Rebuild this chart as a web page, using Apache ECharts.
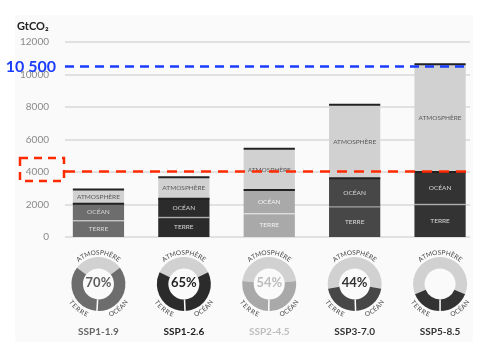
<!DOCTYPE html>
<html><head><meta charset="utf-8">
<script src="https://cdn.jsdelivr.net/npm/echarts@6/dist/echarts.min.js"></script>
<style>html,body{margin:0;padding:0;background:#fff}#c{width:501px;height:357px}</style>
</head><body><div id="c"></div>
<script>
// ---- data ----
const scenarios = ['SSP1-1.9', 'SSP1-2.6', 'SSP2-4.5', 'SSP3-7.0', 'SSP5-8.5'];
const terre = [1000, 1200, 1430, 1850, 2000];
const ocean = [1050, 1150, 1460, 1760, 2000];
const atmosphere = [850, 1300, 2510, 4500, 6600];
const uptakeLabels = ['70%', '65%', '54%', '44%', ''];
const yMin = 0, yMax = 12000, yStep = 2000;
const redLineValue = 4050;
const blueLineValue = 10500;
const blueLineLabel = '10 500';
const boxedTick = 4000;
const unitLabel = 'GtCO₂';
const segNames = ['TERRE', 'OCÉAN', 'ATMOSPHÈRE'];

// ---- styles ----
const mainColors = ['#6d6d6d', '#2b2b2b', '#a9a9a9', '#474747', '#333333'];
const atmColor = '#d1d1d1';
const nameColors = ['#666666', '#222222', '#bdbdbd', '#333333', '#333333'];
const pctColors = ['#5e5e5e', '#222222', '#bdbdbd', '#333333', '#333333'];
const FONT = 'Lato, "DejaVu Sans", sans-serif';

const chart = echarts.init(document.getElementById('c'), null, { renderer: 'canvas' });

function renderBars(params, api) {
  const i = api.value(0);
  const t = api.value(1), o = api.value(2), a = api.value(3);
  const w = api.size([1, 0])[0] * 0.6;
  const base = api.coord([i, 0]);
  const cx = base[0], y0 = base[1];
  const y1 = api.coord([i, t])[1];
  const y2 = api.coord([i, t + o])[1];
  const y3 = api.coord([i, t + o + a])[1];
  const x0 = cx - w / 2;
  const c = mainColors[i];
  const inner = i === 2 ? '#f2f2f2' : '#d8d8d8';
  const lf = '6.5px ' + FONT;
  return {
    type: 'group',
    children: [
      { type: 'rect', shape: { x: x0, y: y1, width: w, height: y0 - y1 }, style: { fill: c } },
      { type: 'rect', shape: { x: x0, y: y2, width: w, height: y1 - y2 }, style: { fill: c } },
      { type: 'rect', shape: { x: x0, y: y3, width: w, height: y2 - y3 }, style: { fill: atmColor } },
      { type: 'line', shape: { x1: x0, y1: y1, x2: x0 + w, y2: y1 }, style: { stroke: 'rgba(255,255,255,0.5)', lineWidth: 1.3 } },
      { type: 'line', shape: { x1: x0, y1: y2, x2: x0 + w, y2: y2 }, style: { stroke: '#222', lineWidth: 2 } },
      { type: 'line', shape: { x1: x0, y1: y3 - 0.5, x2: x0 + w, y2: y3 - 0.5 }, style: { stroke: '#222', lineWidth: 2 } },
      { type: 'text', x: cx, y: (y0 + y1) / 2, style: { text: segNames[0], font: lf, fill: inner, align: 'center', verticalAlign: 'middle' } },
      { type: 'text', x: cx, y: (y1 + y2) / 2, style: { text: segNames[1], font: lf, fill: inner, align: 'center', verticalAlign: 'middle' } },
      { type: 'text', x: cx, y: (y2 + y3) / 2, style: { text: segNames[2], font: lf, fill: '#5a5a5a', align: 'center', verticalAlign: 'middle' } }
    ]
  };
}

const rich = {};
nameColors.forEach((c, i) => { rich['s' + i] = { color: c, fontSize: 10, fontWeight: 'bold', fontFamily: FONT }; });

const baseOption = {
  animation: false,
  backgroundColor: '#ffffff',
  grid: [
    { left: 55.75, right: 18.25, top: 42, bottom: 120 },
    { left: 65, right: 31, top: 42, bottom: 120 }
  ],
  xAxis: [
    { gridIndex: 0, type: 'category', data: scenarios, axisLine: { show: false }, axisTick: { show: false },
      axisLabel: { interval: 0, margin: 90, formatter: (v, i) => '{s' + i + '|' + v + '}', rich: rich } },
    { gridIndex: 1, type: 'value', min: 0, max: 1, show: false }
  ],
  yAxis: [
    { gridIndex: 0, type: 'value', min: yMin, max: yMax, interval: yStep, show: false },
    { gridIndex: 1, type: 'value', min: yMin, max: yMax, interval: yStep,
      axisLine: { show: false }, axisTick: { show: false },
      axisLabel: { color: '#8a8a8a', fontSize: 10, fontFamily: FONT, margin: 16, formatter: v => String(v) },
      splitLine: { lineStyle: { color: '#d9d9d9', width: 1.5 } } }
  ],
  series: [
    { type: 'custom', xAxisIndex: 0, yAxisIndex: 0, renderItem: renderBars, silent: true,
      encode: { x: 0, y: 3 },
      data: scenarios.map((s, i) => [i, terre[i], ocean[i], atmosphere[i]]) },
    { type: 'line', xAxisIndex: 1, yAxisIndex: 1, data: [[0, 0]], symbol: 'none', lineStyle: { opacity: 0 }, silent: true,
      markLine: { symbol: 'none', silent: true, animation: false,
        data: [
          { yAxis: redLineValue, lineStyle: { color: '#ff2a00', type: [10, 7], width: 2.5 }, label: { show: false } },
          { yAxis: blueLineValue, lineStyle: { color: '#1a3cff', type: [9, 6], width: 2.5 },
            label: { show: true, position: 'start', formatter: blueLineLabel, color: '#1a3cff', fontSize: 16, fontWeight: 'bold', fontFamily: FONT, distance: 9 } }
        ] } }
  ]
};
chart.setOption(baseOption);

// ---- donuts & annotations (positions derived from axes) ----
const xs = scenarios.map((s, i) => chart.convertToPixel({ xAxisIndex: 0 }, i));
const yBox = chart.convertToPixel({ yAxisIndex: 1 }, boxedTick);
const donutY = 284, rIn = 15.5, rOut = 27;

const mctx = document.createElement('canvas').getContext('2d');
function arcText(cx, cy, r, text, centerDeg, spanDeg, top, font, color) {
  mctx.font = font;
  const chars = [...text];
  const widths = chars.map(ch => mctx.measureText(ch).width);
  const sumW = widths.reduce((p, q) => p + q, 0);
  const arcLen = spanDeg * Math.PI / 180 * r;
  const spacing = chars.length > 1 ? (arcLen - sumW) / (chars.length - 1) : 0;
  const total = sumW + spacing * (chars.length - 1);
  const cRad = centerDeg * Math.PI / 180;
  let s = -total / 2;
  const els = [];
  chars.forEach((ch, k) => {
    const mid = s + widths[k] / 2;
    const d = mid / r;
    const phi = top ? cRad - d : cRad + d;
    const x = cx + r * Math.cos(phi), y = cy - r * Math.sin(phi);
    const rot = top ? phi - Math.PI / 2 : phi + Math.PI / 2;
    els.push({ type: 'text', x: x, y: y, rotation: rot, silent: true,
      style: { text: ch, font: font, fill: color, align: 'center', verticalAlign: 'middle' } });
    s += widths[k] + spacing;
  });
  return els;
}

const pies = [];
const graphics = [
  { type: 'rect', z: -10, silent: true, shape: { x: 15, y: 15, width: 458, height: 327 }, style: { fill: '#fafafa' } },
  { type: 'text', x: 17, y: 26, silent: true, style: { text: unitLabel, font: 'bold 11px ' + FONT, fill: '#222', verticalAlign: 'middle' } },
  { type: 'rect', silent: true, shape: { x: 20, y: yBox - 14, width: 44, height: 23 },
    style: { fill: 'none', stroke: '#ff2a00', lineWidth: 2.5, lineDash: [8, 6] } }
];
const arcFont = '6.5px ' + FONT;
scenarios.forEach((s, i) => {
  const total = terre[i] + ocean[i] + atmosphere[i];
  const atmFrac = atmosphere[i] / total;
  const start = 90 + atmFrac * 180;
  pies.push({
    type: 'pie', silent: true, center: [xs[i], donutY], radius: [rIn, rOut], startAngle: start, clockwise: true,
    label: { show: false }, labelLine: { show: false }, emphasis: { disabled: true },
    data: [
      { value: atmosphere[i], name: segNames[2], itemStyle: { color: atmColor } },
      { value: ocean[i], name: segNames[1], itemStyle: { color: mainColors[i] } },
      { value: terre[i], name: segNames[0], itemStyle: { color: mainColors[i] } }
    ]
  });
  const sepDeg = start - (atmosphere[i] + ocean[i]) / total * 360;
  const sr = sepDeg * Math.PI / 180;
  graphics.push({ type: 'line', silent: true, z: 10,
    shape: { x1: xs[i] + rIn * Math.cos(sr), y1: donutY - rIn * Math.sin(sr), x2: xs[i] + (rOut + 0.5) * Math.cos(sr), y2: donutY - (rOut + 0.5) * Math.sin(sr) },
    style: { stroke: '#ffffff', lineWidth: 1.5 } });
  if (uptakeLabels[i]) {
    graphics.push({ type: 'text', x: xs[i], y: donutY - 1, silent: true,
      style: { text: uptakeLabels[i], font: 'bold 13px ' + FONT, fill: pctColors[i], align: 'center', verticalAlign: 'middle' } });
  }
  graphics.push(...arcText(xs[i], donutY, 31.5, segNames[2], 90, 84, true, arcFont, '#444'));
  graphics.push(...arcText(xs[i], donutY, 32.5, segNames[0], -129, 40, false, arcFont, '#444'));
  graphics.push(...arcText(xs[i], donutY, 32.5, segNames[1], -51, 40, false, arcFont, '#444'));
});

chart.setOption({ series: baseOption.series.concat(pies), graphic: graphics });
</script>
</body></html>
